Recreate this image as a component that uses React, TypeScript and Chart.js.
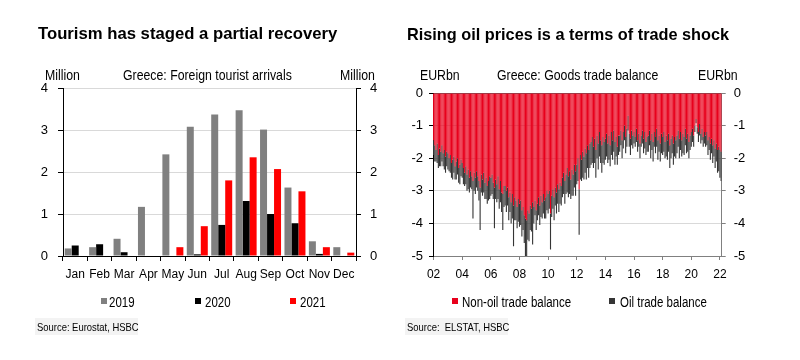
import React, { useEffect, useRef } from "react";
import { Chart, registerables } from "chart.js";
Chart.register(...registerables);

// ---------- Left panel data ----------
const monthLabels = ["Jan", "Feb", "Mar", "Apr", "May", "Jun", "Jul", "Aug", "Sep", "Oct", "Nov", "Dec"];
const arrivals2019 = [0.18, 0.21, 0.41, 1.17, 2.42, 3.08, 3.37, 3.47, 3.01, 1.63, 0.35, 0.21];
const arrivals2020 = [0.25, 0.28, 0.09, 0, 0, 0.04, 0.74, 1.31, 1.0, 0.78, 0.05, 0];
const arrivals2021 = [0, 0, 0, 0, 0.21, 0.71, 1.8, 2.35, 2.07, 1.54, 0.21, 0.08];

// ---------- Right panel data (monthly, Jan 2002 - Feb 2022) ----------
const tradeYearLabels = ["02", "04", "06", "08", "10", "12", "14", "16", "18", "20", "22"];
const nonOilBalance = [
  -1.45, -1.6, -1.75, -1.55, -1.9, -1.7, -1.8, -1.6, -1.85, -1.75, -1.95, -1.8,
  -1.85, -2.0, -1.9, -2.15, -2.05, -1.95, -2.25, -2.1, -2.0, -2.3, -2.2, -2.05,
  -2.15, -2.3, -2.45, -2.25, -2.5, -2.35, -2.6, -2.4, -2.55, -2.7, -2.45, -2.6,
  -2.4, -2.55, -2.7, -2.9, -2.5, -2.65, -2.45, -2.75, -2.6, -2.85, -2.7, -2.55,
  -2.6, -2.5, -2.75, -2.9, -2.65, -2.8, -2.55, -2.95, -2.7, -3.05, -3.1, -2.85,
  -2.85, -3.0, -2.9, -3.2, -3.05, -3.35, -3.1, -3.45, -3.2, -3.3, -3.5, -3.25,
  -3.4, -3.3, -3.6, -3.5, -3.75, -3.85, -3.9, -3.6, -3.7, -3.45, -3.55, -3.35,
  -3.5, -3.3, -3.6, -3.4, -3.2, -3.45, -3.15, -3.35, -3.1, -3.3, -3.2, -3.0,
  -3.1, -3.0, -3.7, -3.15, -2.95, -3.2, -2.9, -3.05, -2.8, -2.95, -2.75, -2.85,
  -2.6, -2.45, -2.7, -2.5, -2.3, -2.55, -2.4, -2.65, -2.35, -2.5, -2.2, -2.4,
  -2.2, -2.0, -2.95, -1.9, -2.05, -1.8, -1.95, -1.7, -1.85, -1.6, -1.75, -1.55,
  -1.5, -1.35, -1.65, -1.4, -1.75, -1.3, -1.55, -1.2, -1.45, -1.6, -1.35, -1.5,
  -1.4, -1.25, -1.55, -1.3, -1.6, -1.2, -1.45, -1.15, -1.5, -1.35, -1.65, -1.3,
  -1.3, -1.15, -1.45, -1.2, -1.0, -1.35, -1.1, -0.7, -1.25, -1.4, -1.15, -1.3,
  -1.2, -1.35, -1.1, -1.45, -1.25, -1.55, -1.3, -1.15, -1.4, -1.2, -1.5, -1.35,
  -1.3, -1.15, -1.45, -1.25, -1.5, -1.2, -1.35, -1.1, -1.45, -1.3, -1.55, -1.25,
  -1.35, -1.2, -1.5, -1.3, -1.45, -1.25, -1.6, -1.4, -1.3, -1.55, -1.35, -1.45,
  -1.3, -1.15, -1.4, -1.2, -1.45, -1.25, -1.35, -1.1, -1.4, -1.25, -1.5, -1.3,
  -1.2, -1.1, -1.3, -1.0, -0.8, -1.05, -1.2, -0.95, -1.25, -1.1, -1.35, -1.2,
  -1.3, -1.2, -1.45, -1.35, -1.55, -1.4, -1.6, -1.45, -1.7, -1.55, -1.75, -1.65,
  -1.75, -1.8,
];
const oilBalance = [
  -0.45, -0.5, -0.35, -0.6, -0.4, -0.55, -0.45, -0.5, -0.4, -0.6, -0.5, -0.45,
  -0.5, -0.4, -0.55, -0.45, -0.6, -0.5, -0.4, -0.55, -0.5, -0.45, -0.6, -0.5,
  -0.45, -0.5, -0.4, -0.55, -0.5, -0.6, -0.45, -0.5, -0.4, -1.15, -0.55, -0.5,
  -0.5, -0.45, -0.6, -1.3, -0.55, -0.5, -0.6, -0.5, -0.65, -0.55, -0.6, -0.7,
  -0.55, -0.6, -0.5, -1.25, -0.6, -0.55, -0.7, -0.6, -0.65, -0.6, -1.1, -0.65,
  -0.6, -0.65, -0.55, -0.7, -0.6, -0.65, -0.75, -1.25, -0.7, -0.6, -0.65, -0.7,
  -0.7, -0.75, -0.8, -0.7, -0.85, -1.15, -1.1, -0.9, -0.85, -0.75, -0.7, -1.3,
  -0.5, -0.45, -0.6, -0.5, -0.55, -0.6, -0.65, -0.5, -0.6, -0.55, -0.65, -0.6,
  -0.6, -0.55, -1.1, -0.65, -0.6, -0.7, -0.55, -0.65, -0.6, -0.7, -0.65, -0.6,
  -0.6, -0.65, -0.7, -0.6, -0.75, -0.65, -0.7, -0.6, -0.8, -0.65, -0.7, -0.75,
  -0.6, -0.7, -1.4, -0.75, -0.65, -0.8, -0.7, -0.75, -0.8, -0.7, -0.85, -0.75,
  -0.7, -0.8, -0.65, -0.75, -0.85, -0.7, -0.8, -0.75, -0.7, -0.85, -0.8, -0.7,
  -0.65, -0.7, -0.6, -0.75, -0.65, -0.7, -0.6, -0.65, -0.7, -0.6, -0.55, -0.6,
  -0.5, -0.45, -0.55, -0.5, -0.45, -0.5, -0.55, -0.45, -0.4, -0.5, -0.45, -0.4,
  -0.35, -0.3, -0.4, -0.35, -0.4, -0.45, -0.35, -0.4, -0.45, -0.5, -0.4, -0.45,
  -0.5, -0.45, -0.55, -0.5, -0.6, -0.45, -0.5, -0.55, -0.6, -0.5, -0.55, -0.6,
  -0.55, -0.6, -0.5, -0.65, -0.6, -0.55, -0.7, -0.6, -0.55, -0.65, -0.6, -0.55,
  -0.55, -0.5, -0.6, -0.55, -0.5, -0.6, -0.55, -0.5, -0.45, -0.55, -0.5, -0.45,
  -0.45, -0.4, -0.35, -0.2, -0.13, -0.2, -0.3, -0.35, -0.3, -0.35, -0.3, -0.35,
  -0.35, -0.4, -0.45, -0.4, -0.5, -0.45, -0.55, -0.5, -0.6, -0.55, -0.7, -0.75,
  -0.85, -0.9,
];

const SANS = "'Liberation Sans', Arial, Helvetica, sans-serif";

const tradeMonthLabels: string[] = [];
for (let i = 0; i < nonOilBalance.length; i++) {
  const yr = 2002 + Math.floor(i / 12);
  tradeMonthLabels.push(yr + "-" + String((i % 12) + 1).padStart(2, "0"));
}

// Narrow-looking text (Arial Narrow is not installed): Liberation Sans compressed horizontally
const txt = (
  s: string,
  left: number,
  top: number,
  size: number,
  narrow: boolean,
  extra: React.CSSProperties = {}
) => (
  <div
    style={{
      position: "absolute",
      left,
      top,
      fontSize: size,
      lineHeight: size + "px",
      fontFamily: SANS,
      whiteSpace: "pre",
      color: "#000",
      transform: narrow ? "scaleX(0.82)" : undefined,
      transformOrigin: "left top",
      ...extra,
    }}
  >
    {s}
  </div>
);

const sq = (left: number, top: number, color: string) => (
  <div style={{ position: "absolute", left, top, width: 6, height: 6, background: color }} />
);

export default function App() {
  const leftRef = useRef<HTMLCanvasElement>(null);
  const rightRef = useRef<HTMLCanvasElement>(null);

  useEffect(() => {
    const numFont = { family: SANS, size: 13 };
    const catFont = { family: SANS, size: 12 };
    const left = new Chart(leftRef.current!, {
      type: "bar",
      data: {
        labels: monthLabels,
        datasets: [
          { label: "2019", data: arrivals2019, backgroundColor: "#808080" },
          { label: "2020", data: arrivals2020, backgroundColor: "#000000" },
          { label: "2021", data: arrivals2021, backgroundColor: "#ff0000" },
        ],
      },
      options: {
        responsive: false,
        maintainAspectRatio: false,
        animation: false,
        datasets: { bar: { categoryPercentage: 0.86, barPercentage: 1, borderWidth: 0 } },
        layout: { padding: { top: 88, bottom: 74, left: 0, right: 0 } },
        plugins: { legend: { display: false }, tooltip: { enabled: false } },
        scales: {
          x: {
            grid: { drawOnChartArea: false, tickLength: 5, tickColor: "#000", offset: true },
            border: { color: "#000", width: 1 },
            ticks: { font: catFont, color: "#000", padding: 6, maxRotation: 0, autoSkip: false },
            afterFit: (s: any) => { s.height = 30; },
          },
          y: {
            min: 0,
            max: 4,
            ticks: { stepSize: 1, font: numFont, color: "#000", padding: 10 },
            grid: { color: "#d9d9d9", tickColor: "#000", tickLength: 5 },
            border: { color: "#000", width: 1 },
            afterFit: (s: any) => { s.width = 63; },
          },
          y2: {
            position: "right",
            min: 0,
            max: 4,
            ticks: { stepSize: 1, font: numFont, color: "#000", padding: 9 },
            grid: { drawOnChartArea: false, tickColor: "#000", tickLength: 5 },
            border: { color: "#000", width: 1 },
            afterFit: (s: any) => { s.width = 44; },
          },
        },
      },
    });

    const right = new Chart(rightRef.current!, {
      type: "bar",
      data: {
        labels: tradeMonthLabels,
        datasets: [
          { label: "Non-oil trade balance", data: nonOilBalance, backgroundColor: "#e8001c" },
          { label: "Oil trade balance", data: oilBalance, backgroundColor: "#353535" },
        ],
      },
      options: {
        responsive: false,
        maintainAspectRatio: false,
        animation: false,
        datasets: { bar: { categoryPercentage: 1, barPercentage: 0.93, borderWidth: 0 } },
        layout: { padding: { top: 93, bottom: 74, left: 0, right: 0 } },
        plugins: { legend: { display: false }, tooltip: { enabled: false } },
        scales: {
          x: {
            stacked: true,
            grid: {
              drawOnChartArea: false,
              offset: false,
              tickLength: 4,
              color: (ctx: any) => (ctx.index % 24 === 0 ? "#808080" : "rgba(0,0,0,0)"),
            },
            border: { color: "#808080", width: 1 },
            ticks: {
              font: catFont,
              color: "#000",
              padding: 7,
              maxRotation: 0,
              autoSkip: false,
              callback: (_v: any, i: number) => (i % 24 === 0 ? tradeYearLabels[i / 24] : ""),
            },
            afterFit: (s: any) => { s.height = 30; },
          },
          y: {
            stacked: true,
            min: -5,
            max: 0,
            ticks: { stepSize: 1, font: numFont, color: "#000", padding: 6 },
            grid: {
              color: (ctx: any) => (ctx.tick && ctx.tick.value === 0 ? "#666666" : "#d9d9d9"),
              tickColor: "#000",
              tickLength: 4,
            },
            border: { color: "#000", width: 1 },
            afterFit: (s: any) => { s.width = 33; },
          },
          y2: {
            position: "right",
            min: -5,
            max: 0,
            ticks: { stepSize: 1, font: numFont, color: "#000", padding: 8 },
            grid: { drawOnChartArea: false, tickColor: "#808080", tickLength: 4 },
            border: { color: "#808080", width: 1 },
            afterFit: (s: any) => { s.width = 78.3; },
          },
        },
      },
    });

    return () => {
      left.destroy();
      right.destroy();
    };
  }, []);

  return (
    <div style={{ position: "fixed", left: 0, top: 0, width: 800, height: 360, background: "#fff", overflow: "hidden" }}>
      <canvas ref={leftRef} width={400} height={360} style={{ position: "absolute", left: 0, top: 0 }} />
      <canvas ref={rightRef} width={400} height={360} style={{ position: "absolute", left: 400, top: 0 }} />

      {txt("Tourism has staged a partial recovery", 38, 25.8, 16.7, false, { fontWeight: "bold" })}
      {txt("Million", 45, 67, 15, true)}
      {txt("Greece: Foreign tourist arrivals", 123, 67, 15, true)}
      {txt("Million", 340, 67, 15, true)}

      {sq(101, 298, "#808080")}
      {txt("2019", 109, 294.6, 14, true)}
      {sq(195, 298, "#000000")}
      {txt("2020", 205, 294.6, 14, true)}
      {sq(290, 298, "#ff0000")}
      {txt("2021", 300, 294.6, 14, true)}

      <div style={{ position: "absolute", left: 35, top: 318, width: 103, height: 17, background: "#f3f3f3" }} />
      {txt("Source: Eurostat, HSBC", 37, 321.5, 11.5, true)}

      {txt("Rising oil prices is a terms of trade shock", 407, 26, 16.3, false, { fontWeight: "bold" })}
      {txt("EURbn", 420, 67, 15, true)}
      {txt("Greece: Goods trade balance", 497, 67, 15, true)}
      {txt("EURbn", 698, 67, 15, true)}

      {sq(452, 298, "#e8001c")}
      {txt("Non-oil trade balance", 462, 294.6, 14, true)}
      {sq(609, 298, "#353535")}
      {txt("Oil trade balance", 620, 294.6, 14, true)}

      <div style={{ position: "absolute", left: 405, top: 318, width: 103, height: 17, background: "#f3f3f3" }} />
      {txt("Source:  ELSTAT, HSBC", 407, 321.5, 11.5, true)}
    </div>
  );
}
